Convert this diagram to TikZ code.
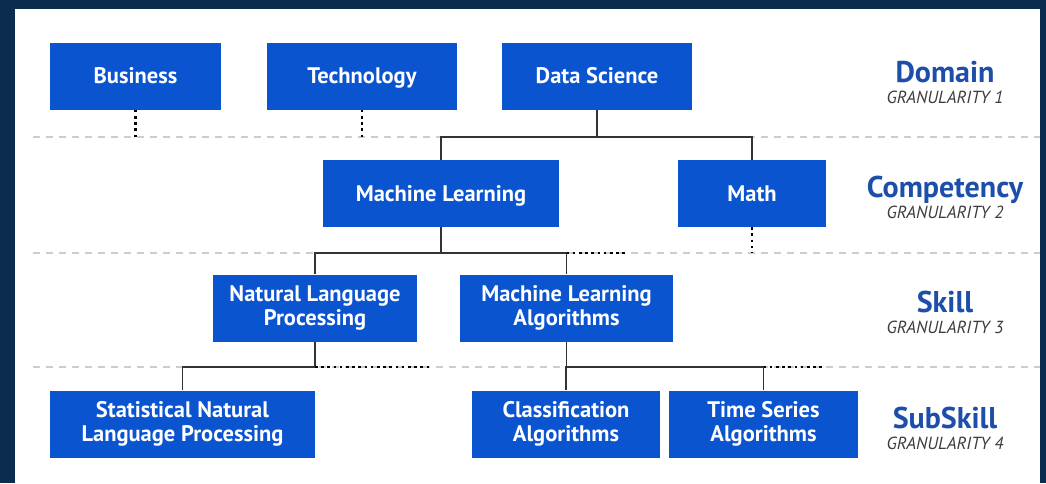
\documentclass[tikz,border=0pt]{standalone}
\usepackage{fontspec}
\setmainfont{PT Sans}
\usetikzlibrary{calc}

\definecolor{framenavy}{RGB}{12,44,78}
\definecolor{boxblue}{RGB}{10,84,208}
\definecolor{levelblue}{RGB}{28,78,170}
\definecolor{sepgray}{RGB}{205,205,205}
\definecolor{grangray}{RGB}{60,60,60}

\tikzset{
  skillbox/.style={fill=boxblue, text=white, align=center, inner sep=0pt,
    minimum height=67pt, font=\bfseries\fontsize{22.5}{23.5}\selectfont},
  oneline/.style={text height=16pt, text depth=0.5pt},
  treelink/.style={draw=black!80, line width=1.6pt},
  dotlink/.style={draw=black, line width=2.6pt, dash pattern=on 2.6pt off 3.6pt},
  separator/.style={draw=sepgray, line width=1.2pt, dash pattern=on 7pt off 6pt},
  levelname/.style={text=levelblue, anchor=base, font=\bfseries\fontsize{30}{32}\selectfont},
  levelgran/.style={text=grangray, anchor=base, font=\itshape\fontsize{17.5}{19}\selectfont}
}

\begin{document}
\begin{tikzpicture}[x=1pt,y=-1pt]
            % Frame and white panel
            \fill[framenavy] (0,0) rectangle (1046,483);
            \fill[white] (15,9) rectangle (1040,483);
            \useasboundingbox (0,0) rectangle (1046,483);

            % Level separators
            \foreach \sy [count=\i] in {137,253,367}
                \draw[separator] (33,\sy) -- (1040,\sy) coordinate (s\i);

            % Domain row
            \node[skillbox, oneline, minimum width=171pt] (biz)  at (135.5,76) {Business};
            \node[skillbox, oneline, minimum width=190pt] (tech) at (362,76)   {Technology};
            \node[skillbox, oneline, minimum width=190pt] (ds)   at (597,76)   {Data Science};

            % Competency row
            \node[skillbox, oneline, minimum width=236pt] (ml)   at (441,193.5) {Machine Learning};
            \node[skillbox, oneline, minimum width=148pt] (math) at (752,193.5) {Math};

            % Skill row
            \node[skillbox, minimum width=204pt] (nlp) at (315,308)   {Natural Language\\Processing};
            \node[skillbox, minimum width=213pt] (mla) at (566.5,308) {Machine Learning\\Algorithms};

            % SubSkill row
            \node[skillbox, minimum width=265pt] (snlp) at (182.5,424) {Statistical Natural\\Language Processing};
            \node[skillbox, minimum width=188pt] (cls)  at (566,424)   {Classification\\Algorithms};
            \node[skillbox, minimum width=189pt] (ts)   at (763.5,424) {Time Series\\Algorithms};

            % Level names on the right
            \foreach \lname/\gnum/\yb in {Domain/1/82,Competency/2/197,Skill/3/312,SubSkill/4/428}{
                \node[levelname] (lvl\gnum)  at (945,\yb)      {\lname};
                \node[levelgran] (gran\gnum) at (945,\yb+21.5) {GRANULARITY \gnum};
            }

            % Tree links
            \draw[treelink] (ds.south) -- (ds.south |- s1) coordinate (dsj);
            \draw[treelink] (dsj) -| (ml.north);
            \draw[treelink] (dsj) -| (math.north);

            \draw[treelink] (ml.south) -- (ml.south |- s2) coordinate (mlj);
            \draw[treelink] (mlj) -| (nlp.north);
            \draw[treelink] (mlj) -| (mla.north);

            \draw[treelink] (nlp.south) -- (nlp.south |- s3) coordinate (nlpj);
            \draw[treelink] (nlpj) -| (snlp.north);

            \draw[treelink] (mla.south) -- (mla.south |- s3) coordinate (mlaj);
            \draw[treelink] (mlaj) -| (cls.north);
            \draw[treelink] (mlaj) -| (ts.north);

            % Dotted stubs for branches not shown
            \coordinate (mlmore)  at (625,253);
            \coordinate (nlpmore) at (432,367);
            \coordinate (tsmore)  at (823,367);
            \draw[dotlink] (biz.south)  -- (biz.south |- s1);
            \draw[dotlink] (tech.south) -- (tech.south |- s1);
            \draw[dotlink] (math.south) -- (math.south |- s2);
            \draw[dotlink] (mla.north |- s2) -- (mlmore);
            \draw[dotlink] (nlpj) -- (nlpmore);
            \draw[dotlink] (ts.north |- s3) -- (tsmore);
        \end{tikzpicture}
\end{document}
